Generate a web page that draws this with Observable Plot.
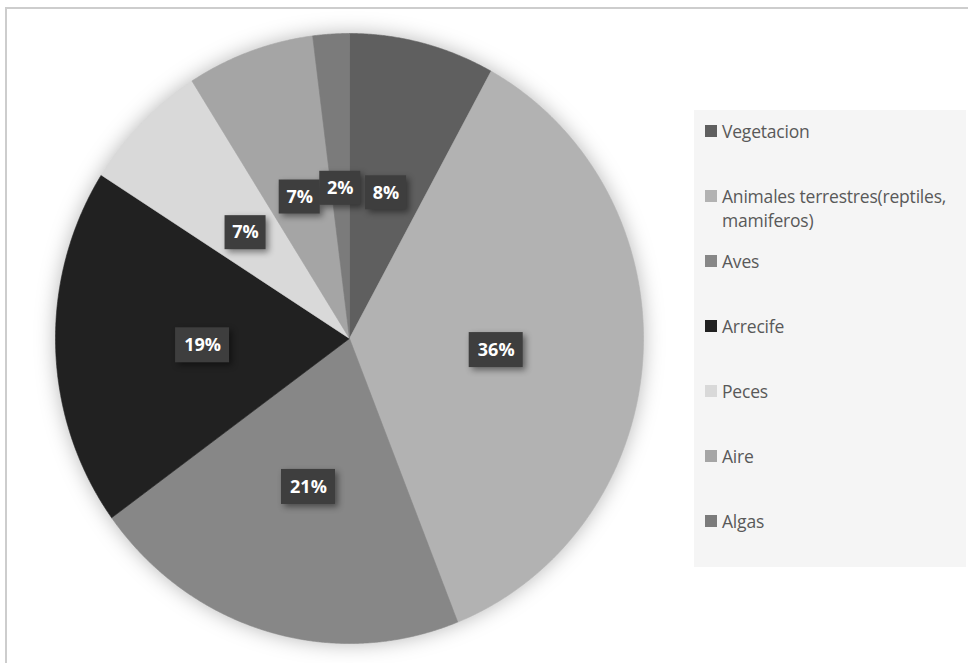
<!DOCTYPE html>
<html>
<head>
<meta charset="utf-8">
<script src="https://cdn.jsdelivr.net/npm/d3@7"></script>
<script src="https://cdn.jsdelivr.net/npm/@observablehq/plot@0.6"></script>
<style>
  html, body { margin: 0; padding: 0; background: #ffffff; overflow: hidden; }
  #wrap { position: relative; width: 968px; height: 663px; overflow: hidden; font-family: "Open Sans", sans-serif; }
  #frame { position: absolute; left: 5px; top: 7px; width: 990px; height: 700px; border: 2px solid #cdcdcd; box-sizing: border-box; }
  #chart { position: absolute; left: 0; top: 0; }
  #legend { position: absolute; left: 694px; top: 110px; width: 272px; height: 457px; background: #f5f5f5; }
  .item { position: absolute; left: 11px; font-size: 17.5px; line-height: 24px; color: #595959; white-space: nowrap; letter-spacing: -0.2px; }
  .sw { position: absolute; left: 0; top: 6px; width: 12px; height: 12px; }
  .txt { position: absolute; left: 17px; top: 0; }
  #chart g[aria-label="line"] { filter: drop-shadow(0 0 10px rgba(0,0,0,0.28)); }
  #chart g[aria-label="rect"] { filter: drop-shadow(3px 3px 3px rgba(0,0,0,0.45)); }
</style>
</head>
<body>
<div id="wrap">
  <div id="frame"></div>
  <div id="chart"></div>
  <div id="legend"></div>
</div>
<script>
const names = ["Vegetacion", "Animales terrestres(reptiles, mamiferos)", "Aves", "Arrecife", "Peces", "Aire", "Algas"];
const legendLines = [["Vegetacion"], ["Animales terrestres(reptiles,", "mamiferos)"], ["Aves"], ["Arrecife"], ["Peces"], ["Aire"], ["Algas"]];
const values = [8, 36, 21, 19, 7, 7, 2];
const labels = ["8%", "36%", "21%", "19%", "7%", "7%", "2%"];
const colors = ["#5f5f5f", "#b2b2b2", "#878787", "#212121", "#d9d9d9", "#a5a5a5", "#7b7b7b"];

const total = d3.sum(values);
const pts = [];
const lbl = [];
let acc = 0;
values.forEach((v, i) => {
  const a0 = acc / total * 2 * Math.PI;
  const a1 = (acc + v) / total * 2 * Math.PI;
  acc += v;
  pts.push({name: names[i], x: 0, y: 0});
  const n = Math.max(2, Math.ceil((a1 - a0) / (Math.PI / 720)));
  for (let k = 0; k <= n; k++) {
    const a = a0 + (a1 - a0) * k / n;
    pts.push({name: names[i], x: Math.sin(a), y: Math.cos(a)});
  }
  pts.push({name: names[i], x: 0, y: 0});
  const am = (a0 + a1) / 2;
  lbl.push({label: labels[i], x: 0.5 * Math.sin(am), y: 0.5 * Math.cos(am)});
});

const plot = Plot.plot({
  width: 968,
  height: 663,
  margin: 0,
  style: {background: "transparent", fontFamily: "Open Sans, sans-serif"},
  x: {domain: [-1, 1], range: [55, 643], axis: null},
  y: {domain: [-1, 1], range: [643, 33], axis: null},
  color: {domain: names, range: colors},
  marks: [
    Plot.line(pts, {x: "x", y: "y", z: "name", fill: "name", stroke: "name", strokeWidth: 0.6, curve: "linear"}),
    Plot.rect(lbl.filter(d => d.label.length === 3), {x1: "x", x2: "x", y1: "y", y2: "y",
      insetLeft: -27, insetRight: -27, insetTop: -15.5, insetBottom: -19.5, fill: "#3e3e3e"}),
    Plot.rect(lbl.filter(d => d.label.length === 2), {x1: "x", x2: "x", y1: "y", y2: "y",
      insetLeft: -20.5, insetRight: -20.5, insetTop: -15, insetBottom: -19, fill: "#3e3e3e"}),
    Plot.text(lbl, {x: "x", y: "y", dy: 2, text: "label", fill: "white", fontSize: 18, fontWeight: "bold", fontFamily: "Open Sans, sans-serif"})
  ]
});
document.getElementById("chart").appendChild(plot);

const legend = document.getElementById("legend");
names.forEach((nm, i) => {
  const item = document.createElement("div");
  item.className = "item";
  item.style.top = (9 + 65 * i) + "px";
  const sw = document.createElement("div");
  sw.className = "sw";
  sw.style.background = colors[i];
  const t = document.createElement("div");
  t.className = "txt";
  t.innerHTML = legendLines[i].join("<br>");
  item.appendChild(sw);
  item.appendChild(t);
  legend.appendChild(item);
});
</script>
</body>
</html>
